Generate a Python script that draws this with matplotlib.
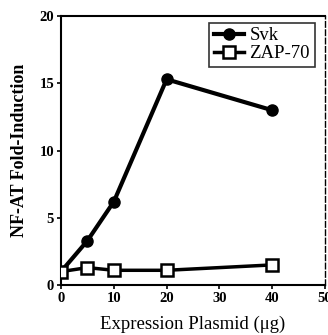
import matplotlib
matplotlib.use("Agg")
import matplotlib.pyplot as plt

plasmid_ug = [0, 5, 10, 20, 40]
svk = [1.0, 3.3, 6.2, 15.3, 13.0]
zap70 = [1.0, 1.3, 1.1, 1.1, 1.5]
x_ticks = [0, 10, 20, 30, 40, 50]
y_ticks = [0, 5, 10, 15, 20]

plt.rcParams['font.family'] = ['Liberation Serif', 'DejaVu Serif']

fig = plt.figure(figsize=(3.28, 3.35), dpi=100)
ax = fig.add_axes([0.186, 0.149, 0.805, 0.803])

ax.plot(plasmid_ug, svk, color='black', lw=3, marker='o', ms=8,
        mfc='black', mec='black', label='Svk', zorder=3)
ax.plot(plasmid_ug, zap70, color='black', lw=2.5, marker='s', ms=8,
        mfc='white', mec='black', mew=1.8, label='ZAP-70', zorder=4)

ax.set_xlim(0, 50)
ax.set_ylim(0, 20)
ax.set_xticks(x_ticks)
ax.set_yticks(y_ticks)
for lab in ax.get_xticklabels() + ax.get_yticklabels():
    lab.set_fontweight('bold')
ax.tick_params(axis='both', direction='out', length=3, width=1.2,
               labelsize=10.5, pad=2)
for s in ['left', 'bottom', 'top']:
    ax.spines[s].set_linewidth(1.5)
ax.spines['right'].set_linewidth(1.0)
ax.spines['right'].set_linestyle((0, (4, 2)))

ax.set_ylabel('NF-AT Fold-Induction', fontsize=13, fontweight='bold', labelpad=8)
ax.set_xlabel('Expression Plasmid (μg)', fontsize=13.5, labelpad=8)

leg = ax.legend(loc='upper right', bbox_to_anchor=(0.975, 0.99), fontsize=13.5,
                frameon=True, fancybox=False, edgecolor='black',
                handlelength=1.6, handletextpad=0.3, borderpad=0.25,
                labelspacing=0.05, borderaxespad=0.2)
leg.get_frame().set_linewidth(1.2)

fig.savefig('out.png', dpi=100)
